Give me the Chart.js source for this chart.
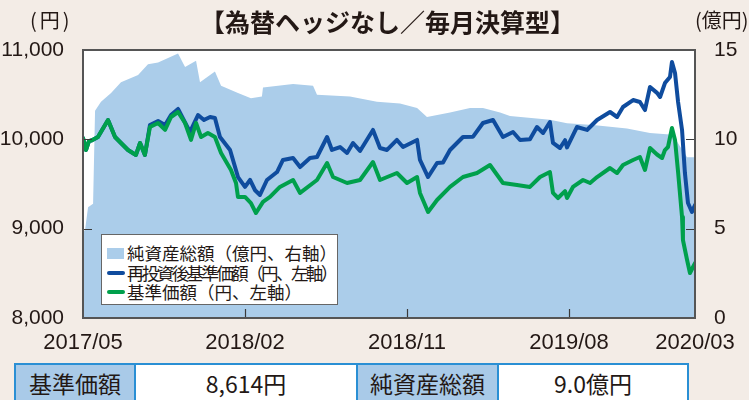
<!DOCTYPE html>
<html>
<head>
<meta charset="utf-8">
<script src="https://cdn.jsdelivr.net/npm/chart.js@4.4.1/dist/chart.umd.min.js"></script>
<style>
  body { margin: 0; background: #f3ece6; }
  #wrap { position: relative; width: 749px; height: 400px; overflow: hidden; background: #f3ece6;
          font-family: "Noto Sans CJK JP", "Noto Sans", sans-serif; color: #231815; }
  #chart { position: absolute; left: 0; top: 0; }
  .title { position: absolute; left: 0; width: 775px; top: 4px; text-align: center;
           font-size: 25px; font-weight: 700; line-height: 34px; }
  .unit { position: absolute; top: 5px; font-size: 20px; line-height: 30px; white-space: nowrap; }
  .legend { position: absolute; left: 101px; top: 234px; width: 237px; height: 71px;
            background: #fff; border: 1px solid #666; box-sizing: border-box; }
  .legend div { position: absolute; left: 25px; font-size: 17.5px; line-height: 20px; white-space: nowrap; }
  .legend i { position: absolute; left: 5px; display: block; }
  table.info { position: absolute; left: 14px; top: 363px; border-collapse: collapse; }
  table.info td { border: 2px solid #2a8fd4; height: 38px; font-size: 23px; text-align: center;
                  padding: 0; vertical-align: top; line-height: 36px; }
  table.info td.lbl { background: #a9cae8; }
  table.info td.val { background: #fff; }
</style>
</head>
<body>
<div id="wrap">
  <canvas id="chart" width="749" height="400"></canvas>
  <div class="title">【為替ヘッジなし／毎月決算型】</div>
  <div class="unit" style="left:30px;letter-spacing:3px">(円)</div>
  <div class="unit" style="left:695px">(億円)</div>
  <div class="legend">
    <i style="top:13px;width:17px;height:11px;background:#abcdea"></i>
    <div style="top:8px">純資産総額（億円、右軸）</div>
    <i style="top:36px;width:18px;height:4px;background:#0f4c9e;border-radius:2px"></i>
    <div style="top:28px;letter-spacing:-2.6px">再投資後基準価額（円、左軸）</div>
    <i style="top:55px;width:18px;height:4px;background:#00a04c;border-radius:2px"></i>
    <div style="top:47px">基準価額（円、左軸）</div>
  </div>
  <table class="info">
    <tr>
      <td class="lbl" style="width:118px">基準価額</td>
      <td class="val" style="width:220px">8,614円</td>
      <td class="lbl" style="width:139px">純資産総額</td>
      <td class="val" style="width:188px">9.0億円</td>
    </tr>
  </table>
</div>
<script>
// x positions are months since 2017/05
const xTickMonths = [0, 9, 18, 27, 34];
const xTickLabels = ['2017/05', '2018/02', '2018/11', '2019/08', '2020/03'];

// 純資産総額 (億円, right axis)
const assetMonths = [0, 0.11, 0.28, 0.56, 0.67, 1.0, 1.56, 2.11, 3.06, 3.61, 4.17, 5.28, 5.67, 6.28, 6.5,
  7.33, 7.67, 8.61, 9.33, 9.94, 10.0, 11.67, 12.78, 13.0, 14.83, 16.33, 17.61, 18.56, 19.11, 20.39,
  21.5, 22.22, 23.17, 23.72, 25.94, 26.89, 28.33, 30.22, 31.5, 32.78, 33.17, 33.56, 34.0];
const assetValues = [4.9, 4.9, 6.2, 6.4, 11.6, 12.1, 12.6, 13.2, 13.6, 14.2, 14.3, 14.8, 14.05, 14.4, 13.2,
  13.8, 13.0, 12.6, 12.3, 12.4, 12.9, 13.1, 13.0, 12.5, 12.4, 12.1, 12.0, 11.75, 11.25, 11.5,
  11.75, 11.75, 11.5, 11.3, 11.1, 10.9, 10.8, 10.6, 10.35, 10.25, 9.6, 9.0, 9.0];

// 基準価額 (円, left axis)
const navMonths = [0, 0.17, 0.33, 0.5, 0.83, 1.39, 1.78, 2.11, 2.5, 2.94, 3.17, 3.44, 3.72, 4.17, 4.56,
  4.89, 5.28, 5.67, 6.0, 6.28, 6.56, 6.94, 7.33, 7.67, 8.22, 8.5, 8.61, 9.0, 9.33, 9.61, 10.0, 10.39,
  10.94, 11.67, 12.06, 13.0, 13.56, 13.89, 14.67, 15.39, 16.11, 16.5, 17.44, 18.0, 18.56, 18.72, 19.17,
  19.67, 20.39, 21.11, 21.89, 22.61, 23.33, 24.11, 24.83, 25.39, 25.94, 26.11, 26.39, 26.78, 26.89,
  27.22, 27.78, 28.17, 28.56, 29.28, 29.67, 30.0, 30.56, 30.94, 31.22, 31.5, 31.89, 32.17, 32.33,
  32.5, 32.72, 32.89, 33.06, 33.28, 33.33, 33.56, 33.72, 33.89, 34.0];
const navValues = [10015, 9881, 9980, 9990, 10026, 10216, 10026, 9959, 9881, 9825, 9959, 9825, 10138, 10183, 10105,
  10250, 10306, 10183, 9993, 10183, 10026, 10071, 10026, 9847, 9657, 9511, 9355, 9355, 9287, 9175, 9300, 9355,
  9467, 9545, 9400, 9545, 9735, 9578, 9511, 9545, 9746, 9545, 9623, 9511, 9578, 9400, 9187,
  9321, 9467, 9578, 9623, 9713, 9511, 9489, 9467, 9578, 9634, 9400, 9343, 9420, 9343,
  9467, 9545, 9511, 9578, 9679, 9623, 9713, 9769, 9802, 9657, 9903, 9830, 9791, 9880,
  9914, 10127, 9993, 9634, 9131, 8873, 8649, 8504, 8571, 8614];

// 再投資後基準価額 (円, left axis)
const reinvMonths = [0, 0.17, 0.33, 0.5, 0.83, 1.39, 1.78, 2.11, 2.5, 2.94, 3.17, 3.44, 3.72, 4.17, 4.56,
  4.89, 5.28, 5.94, 6.39, 6.72, 7.06, 7.33, 7.61, 8.17, 8.61, 9.0, 9.28, 9.56, 9.83, 10.22, 10.78,
  11.11, 11.67, 12.06, 12.61, 13.0, 13.56, 13.83, 14.28, 14.67, 15.0, 15.39, 16.11, 16.5, 16.89, 17.44,
  17.78, 18.56, 18.72, 19.17, 19.67, 20.0, 20.39, 21.11, 21.67, 22.22, 22.78, 23.33, 23.89, 24.28,
  24.83, 25.22, 25.56, 25.94, 26.11, 26.5, 26.78, 26.89, 27.44, 28.0, 28.56, 29.28, 29.67, 30.0,
  30.56, 30.94, 31.22, 31.5, 31.89, 32.06, 32.33, 32.61, 32.72, 32.89, 33.06, 33.28, 33.44, 33.61,
  33.83, 34.0];
const reinvValues = [10015, 9881, 9980, 9990, 10026, 10216, 10026, 9959, 9881, 9825, 9959, 9825, 10160, 10205, 10160,
  10272, 10340, 10082, 10272, 10216, 10250, 10239, 10026, 9881, 9578, 9467, 9545, 9430, 9377, 9545, 9634,
  9769, 9791, 9690, 9791, 9802, 10026, 9881, 9914, 9847, 9959, 9870, 10105, 9903, 9881, 9993,
  9914, 9993, 9769, 9578, 9735, 9740, 9881, 10026, 10030, 10183, 10216, 10026, 10082, 9993,
  10000, 10138, 10071, 10194, 9959, 9903, 9990, 9910, 10138, 10105, 10216, 10306, 10250, 10362,
  10440, 10418, 10328, 10586, 10520, 10474, 10630, 10698, 10866, 10743, 10418, 10105, 9623, 9287,
  9187, 9265];

const toPoints = (xs, ys) => xs.map((x, k) => ({ x, y: ys[k] }));
const textColor = '#231815';

const plotFrame = {
  id: 'plotFrame',
  beforeDatasetsDraw(chart) {
    const { ctx, chartArea: a } = chart;
    ctx.save();
    ctx.fillStyle = '#ffffff';
    ctx.fillRect(a.left, a.top, a.right - a.left, a.bottom - a.top);
    ctx.restore();
  },
  afterDatasetsDraw(chart) {
    const { ctx, chartArea: a, scales } = chart;
    ctx.save();
    ctx.strokeStyle = '#3a3a3a';
    ctx.lineWidth = 1.2;
    ctx.beginPath();
    [9000, 10000].forEach(v => {
      const y = Math.round(scales.y.getPixelForValue(v)) + 0.5;
      ctx.moveTo(a.left, y); ctx.lineTo(a.left + 9, y);
    });
    [5, 10].forEach(v => {
      const y = Math.round(scales.y1.getPixelForValue(v)) + 0.5;
      ctx.moveTo(a.right - 9, y); ctx.lineTo(a.right, y);
    });
    xTickMonths.slice(1, -1).forEach(v => {
      const x = Math.round(scales.x.getPixelForValue(v)) + 0.5;
      ctx.moveTo(x, a.bottom); ctx.lineTo(x, a.bottom - 9);
    });
    ctx.stroke();
    ctx.strokeStyle = '#555555';
    ctx.lineWidth = 2;
    ctx.strokeRect(a.left, a.top, a.right - a.left, a.bottom - a.top);
    ctx.restore();
  }
};

new Chart(document.getElementById('chart'), {
  type: 'line',
  data: {
    datasets: [
      {
        label: '基準価額（円、左軸）',
        data: toPoints(navMonths, navValues),
        yAxisID: 'y',
        borderColor: '#00a04c',
        borderWidth: 4,
        borderJoinStyle: 'round',
        borderCapStyle: 'round',
        pointRadius: 0,
        fill: false,
        order: 1,
      },
      {
        label: '再投資後基準価額（円、左軸）',
        data: toPoints(reinvMonths, reinvValues),
        yAxisID: 'y',
        borderColor: '#0f4c9e',
        borderWidth: 4,
        borderJoinStyle: 'round',
        borderCapStyle: 'round',
        pointRadius: 0,
        fill: false,
        order: 2,
      },
      {
        label: '純資産総額（億円、右軸）',
        data: toPoints(assetMonths, assetValues),
        yAxisID: 'y1',
        borderWidth: 0,
        backgroundColor: '#abcdea',
        pointRadius: 0,
        fill: 'start',
        order: 3,
      },
    ],
  },
  options: {
    responsive: false,
    animation: false,
    events: [],
    layout: { padding: { top: 50, left: 0, right: 0, bottom: 0 } },
    plugins: { legend: { display: false }, tooltip: { enabled: false } },
    scales: {
      x: {
        type: 'linear',
        min: 0,
        max: 34,
        grid: { display: false },
        border: { display: false },
        afterBuildTicks: (s) => { s.ticks = xTickMonths.map(v => ({ value: v })); },
        afterFit: (s) => { s.height = 82; },
        ticks: {
          autoSkip: false,
          maxRotation: 0,
          padding: 4,
          color: textColor,
          font: { family: '"Liberation Sans", Arial, sans-serif', size: 22 },
          callback: (v) => xTickLabels[xTickMonths.indexOf(v)],
        },
      },
      y: {
        position: 'left',
        min: 8000,
        max: 11000,
        grid: { display: false },
        border: { display: false },
        afterFit: (s) => { s.width = 83; },
        ticks: {
          stepSize: 1000,
          padding: 11,
          color: textColor,
          font: { family: '"Liberation Sans", Arial, sans-serif', size: 21 },
          callback: (v) => v.toLocaleString('en-US'),
        },
      },
      y1: {
        position: 'right',
        min: 0,
        max: 15,
        grid: { display: false },
        border: { display: false },
        afterFit: (s) => { s.width = 54; },
        ticks: {
          stepSize: 5,
          padding: 11,
          color: textColor,
          font: { family: '"Liberation Sans", Arial, sans-serif', size: 21 },
        },
      },
    },
  },
  plugins: [plotFrame],
});
</script>
</body>
</html>
